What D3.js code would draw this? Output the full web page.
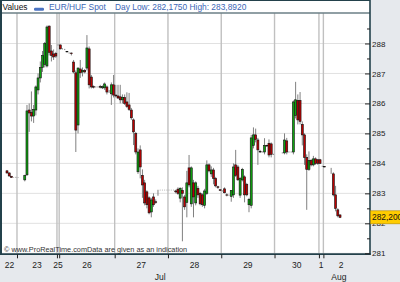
<!DOCTYPE html>
<html>
<head>
<meta charset="utf-8">
<script src="https://cdn.jsdelivr.net/npm/d3@7"></script>
<style>
body { margin: 0; background: #e6e9ed; }
svg { display: block; font-family: "Liberation Sans", Arial, sans-serif; }
</style>
</head>
<body>
<div class="canvas"></div>
<script>
// hourly candles [open, high, low, close], one array per session, null = no quote
const jul22 = [
    [283.75, 283.78, 283.66, 283.68], [283.68, 283.70, 283.56, 283.58], [283.57, 283.58, 283.52, 283.53],
    [283.53, 283.54, 283.52, 283.53], [283.53, 283.55, 283.52, 283.53]
];
const jul23 = [
    [283.53, 283.54, 283.52, 283.53], null, null,
    [283.45, 283.62, 283.40, 283.60], [283.62, 285.95, 283.58, 285.75], [285.78, 286.00, 285.05, 285.68],
    [285.70, 286.40, 285.40, 285.58], [285.58, 285.95, 285.35, 285.80], [285.78, 286.60, 285.60, 286.55],
    [286.45, 287.00, 286.30, 286.85], [286.85, 287.40, 286.70, 287.20], [287.20, 287.75, 287.05, 287.60],
    [287.30, 288.05, 287.20, 288.00], [287.25, 288.60, 287.20, 288.55], [288.58, 288.60, 287.60, 287.70],
    [287.75, 287.95, 287.40, 287.60], [287.65, 287.80, 287.45, 287.55], [287.67, 287.72, 287.52, 287.58]
];
const jul25 = [
    [287.95, 287.97, 287.93, 287.95]
];
const jul26 = [
    [287.95, 287.97, 287.80, 287.82], [287.82, 287.84, 287.80, 287.82], [287.80, 287.82, 287.78, 287.80],
    [287.73, 287.75, 287.70, 287.72], [287.68, 287.70, 287.66, 287.68], [287.68, 287.70, 287.60, 287.66],
    [287.38, 287.45, 287.00, 287.05], [287.02, 287.10, 284.38, 285.11], [285.28, 287.20, 285.00, 287.18],
    [287.15, 287.45, 286.85, 287.02], [287.05, 287.20, 286.90, 287.10], [287.10, 287.15, 287.00, 287.05],
    [287.18, 288.28, 287.10, 287.85], [287.82, 287.90, 286.50, 286.62], [286.88, 286.95, 286.50, 286.55],
    [286.56, 286.60, 286.50, 286.54], [286.55, 286.57, 286.53, 286.55], [286.55, 286.57, 286.53, 286.55],
    [286.56, 286.62, 286.50, 286.54], [286.52, 286.60, 286.48, 286.56], [286.52, 286.70, 286.45, 286.65],
    [286.55, 286.60, 286.30, 286.38], [286.40, 286.45, 286.35, 286.40], [286.32, 286.70, 285.95, 286.62],
    [286.62, 286.95, 286.20, 286.28]
];
const jul27 = [
    [286.28, 286.62, 286.20, 286.25], [286.25, 286.62, 286.15, 286.18], [286.22, 286.62, 286.00, 286.12],
    [286.12, 286.30, 286.00, 286.20], [286.20, 286.30, 285.95, 286.00], [286.05, 286.37, 285.85, 285.90],
    [285.95, 286.35, 285.75, 285.80], [285.78, 285.85, 285.45, 285.52], [285.45, 285.50, 284.61, 285.05],
    [285.00, 285.05, 284.30, 284.38], [283.72, 284.50, 283.65, 284.38], [284.45, 284.60, 283.50, 283.88],
    [283.60, 283.80, 282.85, 283.28], [283.35, 283.45, 282.60, 282.68], [283.05, 283.10, 282.50, 282.62],
    [282.85, 282.90, 282.30, 282.35], [282.38, 282.85, 282.20, 282.78], [282.88, 283.00, 282.55, 282.62],
    [282.72, 282.80, 282.65, 282.70], [283.11, 283.12, 282.92, 283.11], [283.11, 283.12, 283.10, 283.11],
    [283.11, 283.12, 283.10, 283.11], [283.11, 283.12, 283.10, 283.11], [283.11, 283.12, 283.10, 283.11]
];
const jul28 = [
    [283.11, 283.12, 283.10, 283.11], [283.11, 283.12, 283.10, 283.11], [283.11, 283.12, 283.10, 283.11],
    [283.08, 283.12, 283.00, 283.05], [283.14, 283.20, 282.95, 283.00], [282.84, 283.20, 282.70, 283.17],
    [283.10, 283.20, 281.40, 283.00], [282.88, 282.95, 282.45, 282.55], [282.70, 283.75, 282.20, 283.35],
    [283.85, 284.28, 283.20, 283.28], [282.65, 283.90, 282.55, 283.85], [283.35, 283.45, 282.20, 282.88],
    [282.68, 283.40, 282.60, 283.35], [283.17, 283.25, 282.85, 282.95], [283.00, 283.05, 282.60, 282.65],
    [282.95, 283.00, 282.55, 282.62], [282.60, 283.15, 282.50, 283.08], [283.00, 284.10, 282.95, 283.95],
    [283.95, 284.00, 283.70, 283.75], [283.65, 283.90, 283.55, 283.78], [283.78, 283.85, 283.30, 283.50],
    [283.50, 283.55, 283.20, 283.25], [283.22, 283.25, 283.15, 283.20], [283.12, 283.14, 283.08, 283.10]
];
const jul29 = [
    [283.08, 283.10, 283.06, 283.08], [283.15, 283.20, 283.00, 283.02], [282.95, 283.00, 282.90, 282.94],
    [282.94, 282.96, 282.92, 282.94], [282.90, 283.10, 282.72, 283.10], [282.95, 284.00, 282.85, 283.88],
    [283.95, 284.45, 283.55, 283.60], [283.88, 283.95, 283.42, 283.45], [282.94, 283.55, 282.85, 283.50],
    [283.45, 283.85, 283.40, 283.80], [283.55, 283.60, 282.70, 282.95], [283.30, 283.35, 282.90, 282.95],
    [282.62, 282.85, 282.37, 282.80], [282.60, 284.95, 282.50, 284.85], [284.60, 285.20, 284.50, 284.95],
    [284.95, 285.16, 284.70, 284.80], [284.78, 284.85, 283.95, 284.45], [284.40, 284.45, 284.35, 284.38],
    [284.38, 284.40, 284.36, 284.38], [284.38, 284.84, 284.30, 284.60], [284.60, 284.62, 284.55, 284.58],
    [284.67, 284.80, 284.20, 284.28], [284.65, 284.70, 284.20, 284.30], [284.30, 284.32, 284.28, 284.30]
];
const jul30 = [
    null, null, null,
    [284.35, 284.37, 284.33, 284.35], [284.35, 285.00, 284.30, 284.78], [284.75, 284.85, 284.30, 284.38],
    [284.38, 284.40, 284.36, 284.38], [284.38, 284.40, 284.36, 284.38], [284.38, 286.10, 284.30, 286.05],
    [285.60, 286.72, 285.50, 286.12], [286.10, 286.30, 285.30, 285.45], [286.10, 286.38, 285.30, 285.40],
    [285.30, 285.40, 284.60, 284.95], [284.95, 285.00, 283.95, 284.20], [284.20, 284.30, 282.45, 283.80],
    [283.80, 284.40, 283.75, 284.10], [284.10, 284.15, 283.90, 283.95], [283.95, 284.25, 283.90, 284.15],
    [284.15, 284.20, 283.95, 284.00], [284.12, 284.15, 283.95, 284.00]
];
const aug1 = [
    [284.12, 284.15, 283.98, 284.00], [283.90, 283.92, 283.88, 283.90]
];
const aug2 = [
    [283.89, 283.892, 283.87, 283.88], null, null,
    [283.67, 283.85, 283.65, 283.67], [283.65, 283.70, 282.90, 282.95], [282.95, 283.25, 282.40, 282.50],
    [282.45, 282.50, 282.20, 282.25], [282.28, 282.30, 282.175, 282.20]
];

const sessions = [jul22, jul23, jul25, jul26, jul27, jul28, jul29, jul30, aug1, aug2];
const dayLabels = ['22', '23', '25', '26', '27', '28', '29', '30', '1', '2'];
const lastDaySlots = 16;
const months = [{ label: 'Jul', at: 69 }, { label: 'Aug', at: 149.5 }];
const yTicks = [281, 282, 283, 284, 285, 286, 287, 288];
const lastPrice = 282.2;
const header = { title: 'Values', series: 'EUR/HUF Spot', info: 'Day Low: 282,1750 High: 283,8920' };

const dims = { width: 400, height: 282 };
const plot = { left: 2, right: 370, top: 13.5, bottom: 253.3 };

const svg = d3.select('.canvas')
    .append('svg')
    .attr('width', dims.width)
    .attr('height', dims.height)
;

// flatten sessions into one index line
const candles = [];
const starts = [];
sessions.forEach((s) => {
    starts.push(candles.length);
    s.forEach(c => candles.push(c));
});
const slotEnd = starts[starts.length - 1] + lastDaySlots;

const x = d3.scaleLinear().domain([-2.25, 163.5]).range([plot.left, plot.right]);
const y = d3.scaleLinear().domain([281, 289]).range([plot.bottom, plot.top]);

// white panel + header
svg.append('rect')
    .attr('x', 0).attr('y', 0)
    .attr('width', plot.right).attr('height', plot.bottom + 1)
    .attr('fill', '#fff');

// grid
svg.append('g')
    .selectAll('line')
    .data(yTicks)
    .enter().append('line')
    .attr('x1', plot.left).attr('x2', plot.right)
    .attr('y1', d => y(d)).attr('y2', d => y(d))
    .attr('stroke', '#e1e1e1');

const bounds = starts.slice(1).map(s => s - 0.5);
svg.append('g')
    .selectAll('line')
    .data(bounds)
    .enter().append('line')
    .attr('x1', d => x(d)).attr('x2', d => x(d))
    .attr('y1', plot.top).attr('y2', plot.bottom)
    .attr('stroke', '#c0c0c0')
    .attr('stroke-width', 1.4);

// candles
const pts = candles.map((c, i) => ({ c, i })).filter(d => d.c);
const graph = svg.append('g');

graph.selectAll('line')
    .data(pts)
    .enter().append('line')
    .attr('x1', d => x(d.i)).attr('x2', d => x(d.i))
    .attr('y1', d => y(d.c[1])).attr('y2', d => y(d.c[2]))
    .attr('stroke', '#808080');

graph.selectAll('rect')
    .data(pts)
    .enter().append('rect')
    .attr('x', d => x(d.i) - 1)
    .attr('width', 2)
    .attr('y', d => y(Math.max(d.c[0], d.c[3])))
    .attr('height', d => Math.abs(y(d.c[0]) - y(d.c[3])))
    .attr('fill', d => d.c[3] >= d.c[0] ? '#0fa30f' : '#bb0000')
    .attr('stroke', '#111')
    .attr('stroke-width', 0.6);

// watermark
svg.append('text')
    .attr('x', 4).attr('y', 252)
    .attr('font-size', 7.3)
    .attr('fill', '#333')
    .text('© www.ProRealTime.comData are given as an indication');

// frame
const frame = svg.append('g').attr('stroke', '#23414b');
frame.append('line').attr('x1', 0).attr('x2', plot.right).attr('y1', 0.5).attr('y2', 0.5);
frame.append('line').attr('x1', 0).attr('x2', plot.right).attr('y1', 13).attr('y2', 13).attr('stroke-width', 1.2);
frame.append('line').attr('x1', 1).attr('x2', 1).attr('y1', 0).attr('y2', plot.bottom + 1).attr('stroke-width', 2);
frame.append('line').attr('x1', plot.right).attr('x2', plot.right).attr('y1', 0).attr('y2', plot.bottom + 1.5).attr('stroke-width', 1.6);
frame.append('line').attr('x1', 0).attr('x2', plot.right + 0.8).attr('y1', plot.bottom + 0.8).attr('y2', plot.bottom + 0.8).attr('stroke-width', 1.6);

// header
const head = svg.append('g').attr('font-size', 8.4);
head.append('text').attr('x', 2.5).attr('y', 10).attr('fill', '#111').text(header.title);
head.append('rect').attr('x', 34).attr('y', 7.8).attr('width', 10).attr('height', 3).attr('rx', 1.2).attr('fill', '#4a73c2');
head.append('text').attr('x', 49).attr('y', 10).attr('fill', '#3b66b6').text(header.series);
head.append('text').attr('x', 115).attr('y', 10).attr('fill', '#3b66b6').text(header.info);

// right axis
const yAxis = d3.axisRight(y).tickValues(yTicks).tickSizeInner(-5).tickSizeOuter(0).tickPadding(2).tickFormat(d3.format('d'));
const ya = svg.append('g').attr('transform', `translate(${plot.right},0)`).call(yAxis);
ya.select('.domain').remove();
ya.selectAll('line').attr('stroke', '#222');
ya.selectAll('text').attr('font-size', 8).attr('fill', '#222').attr('font-family', '"Liberation Sans", Arial, sans-serif');

const yMinor = d3.axisRight(y).tickValues(yTicks.map(v => v + 0.5)).tickSizeInner(-3).tickSizeOuter(0).tickFormat('');
const ym = svg.append('g').attr('transform', `translate(${plot.right},0)`).call(yMinor);
ym.select('.domain').remove();
ym.selectAll('line').attr('stroke', '#222');

// last price tag (clipped at the window edge, as in the source)
const tag = svg.append('g').attr('transform', `translate(${plot.right + 0.5},${y(lastPrice)})`);
tag.append('rect').attr('x', 0).attr('y', -6.5).attr('width', 40).attr('height', 13)
    .attr('fill', '#ffcc00').attr('stroke', '#b08a00').attr('stroke-width', 0.6);
tag.append('text').attr('x', 1.5).attr('y', 3).attr('font-size', 8.4).attr('fill', '#111')
    .text(d3.format('.3f')(lastPrice).replace('.', ','));

// bottom axis
const xAxis = d3.axisBottom(x).tickValues(bounds).tickSizeInner(4).tickSizeOuter(0).tickFormat('');
const xa = svg.append('g').attr('transform', `translate(0,${plot.bottom + 1})`).call(xAxis);
xa.select('.domain').remove();
xa.selectAll('line').attr('stroke', '#222');

const edges = [x.domain()[0], ...bounds, slotEnd - 0.5];
svg.append('g')
    .selectAll('text')
    .data(dayLabels)
    .enter().append('text')
    .attr('x', (d, i) => (x(edges[i]) + x(edges[i + 1])) / 2)
    .attr('y', 268)
    .attr('text-anchor', 'middle')
    .attr('font-size', 8.5)
    .attr('fill', '#222')
    .text(d => d);

svg.append('g')
    .selectAll('text')
    .data(months)
    .enter().append('text')
    .attr('x', d => x(d.at))
    .attr('y', 280)
    .attr('text-anchor', 'middle')
    .attr('font-size', 8.5)
    .attr('fill', '#222')
    .text(d => d.label);
</script>
</body>
</html>
